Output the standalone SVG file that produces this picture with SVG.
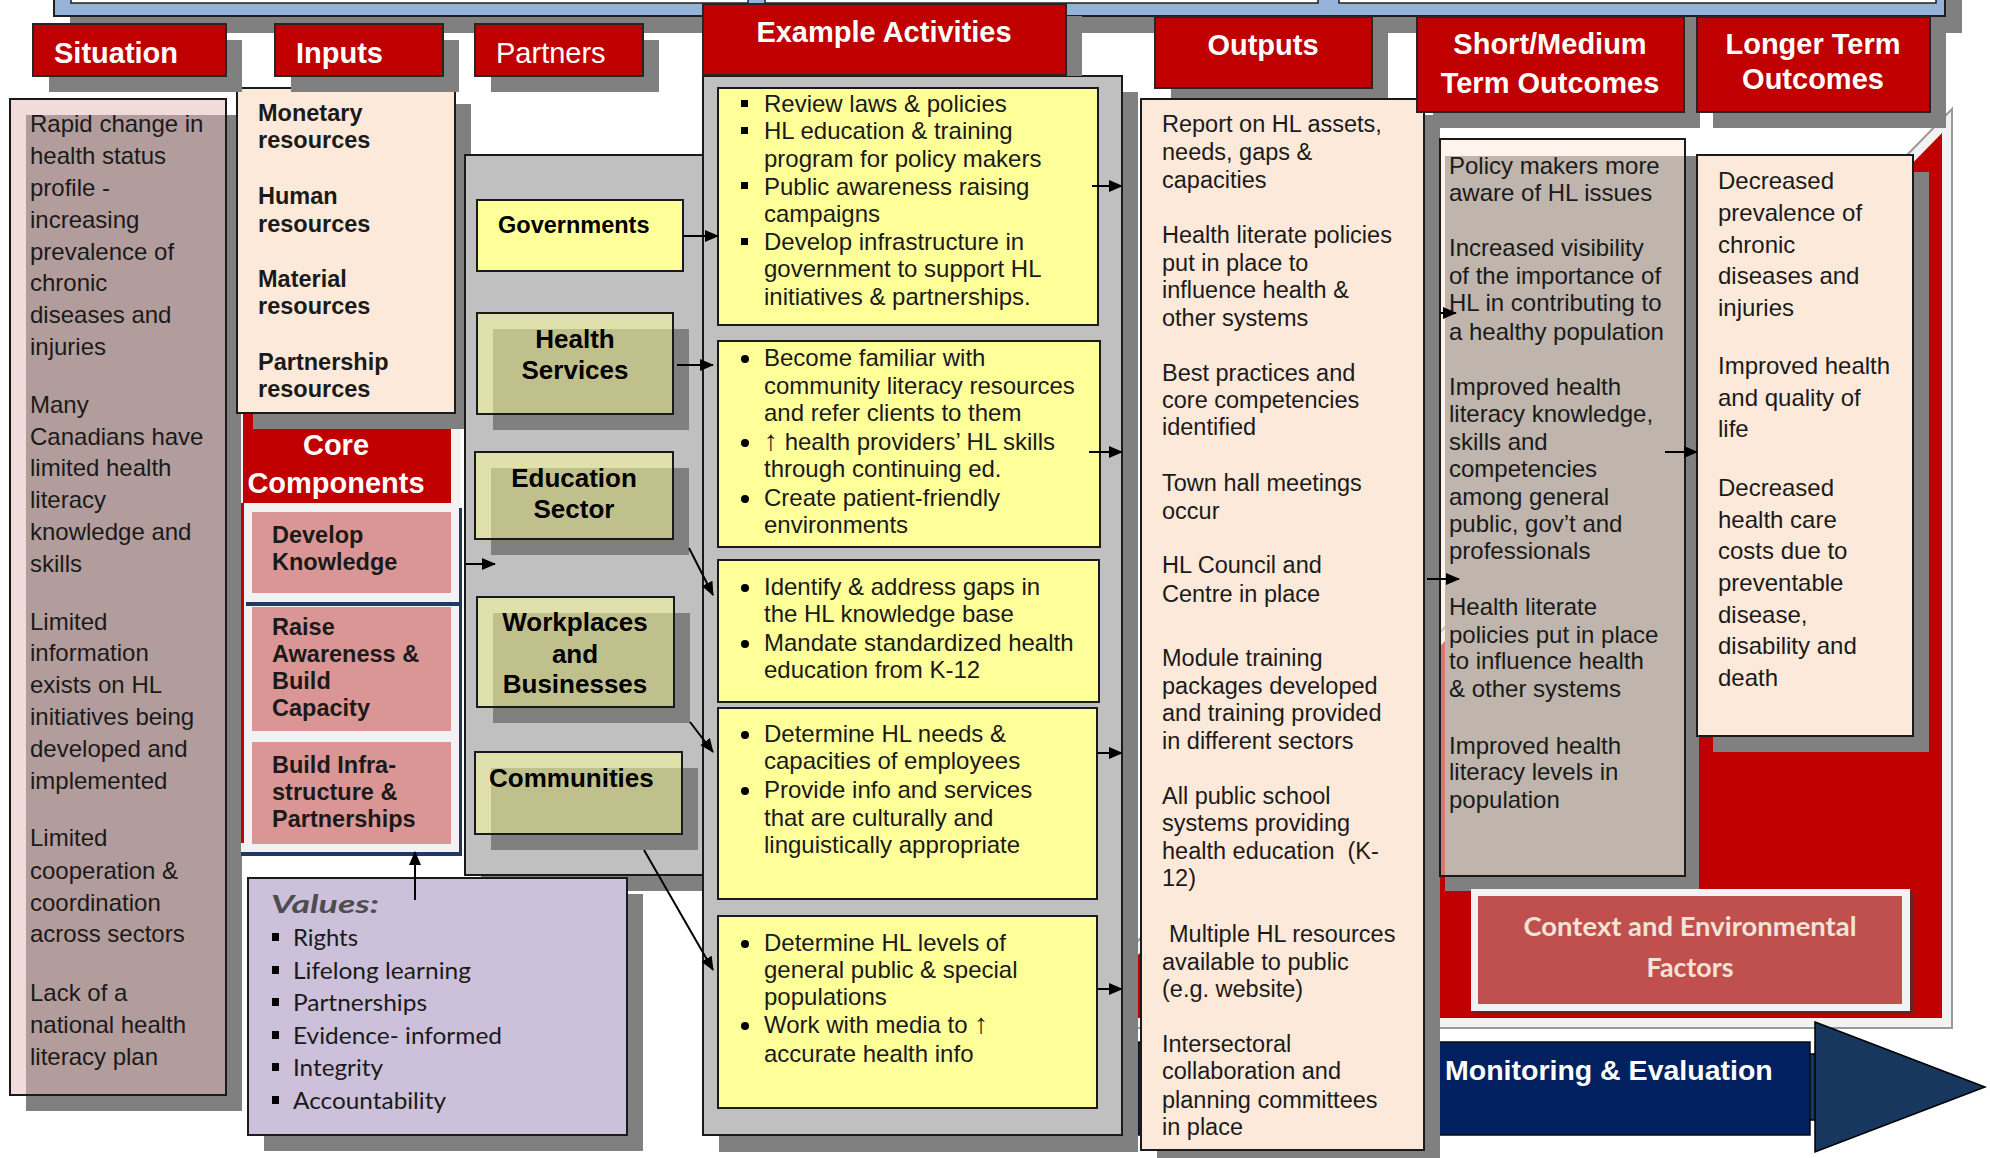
<svg xmlns="http://www.w3.org/2000/svg" width="1990" height="1158" viewBox="0 0 1990 1158">
<defs>
<style>
.sh{fill:#808080}
.hdr{fill:#c00000;stroke:#262626;stroke-width:2}
.ht{font-family:"Liberation Sans",Arial,sans-serif;font-weight:bold;font-size:29px;fill:#ffffff}
.tx{font-family:"Liberation Sans",Arial,sans-serif;fill:#1a1a1a}
.bd{stroke:#1a1a1a;stroke-width:2}
.cal{font-family:Lato,"Open Sans",sans-serif}
.yb{fill:#ffff99;stroke:#1a1a1a;stroke-width:2}
.pb{fill:#ffff99;fill-opacity:0.5;stroke:#1a1a1a;stroke-width:2}
.pt{font-family:"Liberation Sans",Arial,sans-serif;font-weight:bold;font-size:26px;fill:#000}
.cc{fill:#da9694}
.ct{font-family:"Liberation Sans",Arial,sans-serif;font-weight:bold;font-size:23.5px;fill:#1a1a1a}
.up{font-size:28px}
.con line{stroke:#000;stroke-width:2;marker-end:url(#ah)}
</style>
<marker id="ah" markerUnits="userSpaceOnUse" markerWidth="14" markerHeight="12" refX="13" refY="6" orient="auto"><path d="M0,0 L14,6 L0,12 z" fill="#000"/></marker>
</defs>
<rect x="0" y="0" width="1990" height="1158" fill="#ffffff"/>

<g id="top-bar">
<rect x="70" y="0" width="1892" height="33" class="sh"/>
<rect x="54" y="-4" width="1891" height="20" fill="#95b3d7" stroke="#1f1f1f" stroke-width="2"/>
<rect x="71" y="-4" width="677" height="7" fill="#fff" stroke="#1f1f1f" stroke-width="1.5"/>
<rect x="765" y="-4" width="553" height="7" fill="#fff" stroke="#1f1f1f" stroke-width="1.5"/>
<rect x="1339" y="-4" width="597" height="7" fill="#fff" stroke="#1f1f1f" stroke-width="1.5"/>
</g>

<g id="context-background">
<polygon points="1952,109 1952,1028 1132,1028 1132,947" fill="#f2f2f2" stroke="#9a9a9a" stroke-width="2"/>
<polygon points="1942,133 1942,1018 1138,1018 1138,955" fill="#c00000"/>
</g>

<g id="monitoring-evaluation">
<rect x="1790" y="1054" width="30" height="66" fill="#17375e" stroke="#000" stroke-width="1.5"/>
<polygon points="1815,1022 1985,1087 1815,1152" fill="#17375e" stroke="#000" stroke-width="1.5"/>
<rect x="1138" y="1042" width="672" height="93" fill="#002060" stroke="#0d0d0d" stroke-width="1.5"/>
<text class="ht" x="1445" y="1080" style="font-size:28.5px">Monitoring &amp; Evaluation</text>
</g>

<g id="situation">
<rect x="26" y="115" width="216" height="996" class="sh"/>
<rect x="10" y="99" width="216" height="996" fill="#e6b9b8" fill-opacity="0.5" class="bd"/>
<text class="tx" style="font-size:24px">
<tspan x="30" y="132">Rapid change in</tspan>
<tspan x="30" y="164">health status</tspan>
<tspan x="30" y="196">profile -</tspan>
<tspan x="30" y="228">increasing</tspan>
<tspan x="30" y="260">prevalence of</tspan>
<tspan x="30" y="291">chronic</tspan>
<tspan x="30" y="323">diseases and</tspan>
<tspan x="30" y="355">injuries</tspan>
<tspan x="30" y="413">Many</tspan>
<tspan x="30" y="445">Canadians have</tspan>
<tspan x="30" y="476">limited health</tspan>
<tspan x="30" y="508">literacy</tspan>
<tspan x="30" y="540">knowledge and</tspan>
<tspan x="30" y="572">skills</tspan>
<tspan x="30" y="630">Limited</tspan>
<tspan x="30" y="661">information</tspan>
<tspan x="30" y="693">exists on HL</tspan>
<tspan x="30" y="725">initiatives being</tspan>
<tspan x="30" y="757">developed and</tspan>
<tspan x="30" y="789">implemented</tspan>
<tspan x="30" y="846">Limited</tspan>
<tspan x="30" y="879">cooperation &amp;</tspan>
<tspan x="30" y="911">coordination</tspan>
<tspan x="30" y="942">across sectors</tspan>
<tspan x="30" y="1001">Lack of a</tspan>
<tspan x="30" y="1033">national health</tspan>
<tspan x="30" y="1065">literacy plan</tspan>
</text>
</g>

<g id="core-components">
<rect x="241" y="405" width="220" height="451" fill="#f2f2f2"/>
<rect x="243" y="405" width="208" height="98" fill="#c00000"/>
<rect x="241" y="503" width="3" height="340" fill="#c00000"/>
<rect x="246" y="602" width="215" height="4" fill="#1f3864"/>
<rect x="459" y="508" width="3" height="348" fill="#1f3864"/>
<rect x="241" y="852" width="221" height="4" fill="#1f3864"/>
<text class="ht" x="336" y="455" text-anchor="middle">Core</text>
<text class="ht" x="336" y="493" text-anchor="middle">Components</text>
<g id="develop-knowledge">
<rect x="252" y="512" width="199" height="81" class="cc"/>
<text class="ct"><tspan x="272" y="543">Develop</tspan><tspan x="272" y="570">Knowledge</tspan></text>
</g>
<g id="raise-awareness">
<rect x="252" y="607" width="199" height="124" class="cc"/>
<text class="ct"><tspan x="272" y="635">Raise</tspan><tspan x="272" y="662">Awareness &amp;</tspan><tspan x="272" y="689">Build</tspan><tspan x="272" y="716">Capacity</tspan></text>
</g>
<g id="build-infrastructure">
<rect x="252" y="742" width="199" height="102" class="cc"/>
<text class="ct"><tspan x="272" y="773">Build Infra-</tspan><tspan x="272" y="800">structure &amp;</tspan><tspan x="272" y="827">Partnerships</tspan></text>
</g>
</g>

<g id="inputs">
<rect x="253" y="104" width="218" height="325" class="sh"/>
<rect x="237" y="88" width="218" height="325" fill="#fde9d9" class="bd"/>
<text class="ct">
<tspan x="258" y="121">Monetary</tspan><tspan x="258" y="148">resources</tspan>
<tspan x="258" y="204">Human</tspan><tspan x="258" y="232">resources</tspan>
<tspan x="258" y="287">Material</tspan><tspan x="258" y="314">resources</tspan>
<tspan x="258" y="370">Partnership</tspan><tspan x="258" y="397">resources</tspan>
</text>
</g>

<g id="partners-panel">
<rect x="481" y="171" width="238" height="720" class="sh"/>
<rect x="465" y="155" width="238" height="720" fill="#c0c0c0" class="bd"/>
</g>

<g id="values">
<rect x="264" y="894" width="379" height="257" class="sh"/>
<rect x="248" y="878" width="379" height="257" fill="#ccc0da" class="bd"/>
<text class="cal" x="271" y="913" style="font-size:25px;font-weight:bold;font-style:italic;fill:#4d4d4d" textLength="108" lengthAdjust="spacingAndGlyphs">Values:</text>
<g fill="#000">
<rect x="272" y="933" width="7" height="8"/>
<rect x="272" y="966" width="7" height="8"/>
<rect x="272" y="998" width="7" height="8"/>
<rect x="272" y="1031" width="7" height="8"/>
<rect x="272" y="1063" width="7" height="8"/>
<rect x="272" y="1096" width="7" height="8"/>
</g>
<g class="cal" style="font-size:24px;fill:#1a1a1a">
<text x="293" y="946" textLength="65" lengthAdjust="spacingAndGlyphs">Rights</text>
<text x="293" y="979" textLength="178" lengthAdjust="spacingAndGlyphs">Lifelong learning</text>
<text x="293" y="1011" textLength="134" lengthAdjust="spacingAndGlyphs">Partnerships</text>
<text x="293" y="1044" textLength="209" lengthAdjust="spacingAndGlyphs">Evidence- informed</text>
<text x="293" y="1076" textLength="90" lengthAdjust="spacingAndGlyphs">Integrity</text>
<text x="293" y="1109" textLength="153" lengthAdjust="spacingAndGlyphs">Accountability</text>
</g>
</g>

<g id="governments">
<rect x="477" y="200" width="206" height="71" class="yb"/>
<text class="pt" x="498" y="233" style="font-size:23.5px">Governments</text>
</g>
<g id="health-services">
<rect x="493" y="329" width="196" height="101" class="sh"/>
<rect x="477" y="313" width="196" height="101" class="pb"/>
<text class="pt" text-anchor="middle"><tspan x="575" y="348">Health</tspan><tspan x="575" y="379">Services</tspan></text>
</g>
<g id="education-sector">
<rect x="491" y="468" width="198" height="87" class="sh"/>
<rect x="475" y="452" width="198" height="87" class="pb"/>
<text class="pt" text-anchor="middle"><tspan x="574" y="487">Education</tspan><tspan x="574" y="518">Sector</tspan></text>
</g>
<g id="workplaces">
<rect x="493" y="613" width="197" height="110" class="sh"/>
<rect x="477" y="597" width="197" height="110" class="pb"/>
<text class="pt" text-anchor="middle"><tspan x="575" y="631">Workplaces</tspan><tspan x="575" y="663">and</tspan><tspan x="575" y="693">Businesses</tspan></text>
</g>
<g id="communities">
<rect x="491" y="768" width="207" height="82" class="sh"/>
<rect x="475" y="752" width="207" height="82" class="pb"/>
<text class="pt" x="489" y="787">Communities</text>
</g>

<g id="activities-panel">
<rect x="719" y="92" width="419" height="1060" class="sh"/>
<rect x="703" y="76" width="419" height="1059" fill="#c0c0c0" class="bd"/>
</g>

<g id="activity-1">
<rect x="718" y="88" width="380" height="237" class="yb"/>
<g fill="#000"><rect x="741" y="100" width="7" height="7"/><rect x="741" y="127" width="7" height="7"/><rect x="741" y="182" width="7" height="7"/><rect x="741" y="238" width="7" height="7"/></g>
<text class="tx" style="font-size:24px">
<tspan x="764" y="112">Review laws &amp; policies</tspan>
<tspan x="764" y="139">HL education &amp; training</tspan>
<tspan x="764" y="167">program for policy makers</tspan>
<tspan x="764" y="195">Public awareness raising</tspan>
<tspan x="764" y="222">campaigns</tspan>
<tspan x="764" y="250">Develop infrastructure in</tspan>
<tspan x="764" y="277">government to support HL</tspan>
<tspan x="764" y="305">initiatives &amp; partnerships.</tspan>
</text>
</g>
<g id="activity-2">
<rect x="718" y="341" width="382" height="206" class="yb"/>
<g fill="#000"><circle cx="745" cy="359" r="4"/><circle cx="745" cy="443" r="4"/><circle cx="745" cy="499" r="4"/></g>
<text class="tx" style="font-size:24px">
<tspan x="764" y="366">Become familiar with</tspan>
<tspan x="764" y="394">community literacy resources</tspan>
<tspan x="764" y="421">and refer clients to them</tspan>
<tspan x="764" y="450"><tspan class="up">↑</tspan> health providers’ HL skills</tspan>
<tspan x="764" y="477">through continuing ed.</tspan>
<tspan x="764" y="506">Create patient-friendly</tspan>
<tspan x="764" y="533">environments</tspan>
</text>
</g>
<g id="activity-3">
<rect x="718" y="560" width="381" height="142" class="yb"/>
<g fill="#000"><circle cx="745" cy="588" r="4"/><circle cx="745" cy="644" r="4"/></g>
<text class="tx" style="font-size:24px">
<tspan x="764" y="595">Identify &amp; address gaps in</tspan>
<tspan x="764" y="622">the HL knowledge base</tspan>
<tspan x="764" y="651">Mandate standardized health</tspan>
<tspan x="764" y="678">education from K-12</tspan>
</text>
</g>
<g id="activity-4">
<rect x="718" y="708" width="379" height="191" class="yb"/>
<g fill="#000"><circle cx="745" cy="735" r="4"/><circle cx="745" cy="791" r="4"/></g>
<text class="tx" style="font-size:24px">
<tspan x="764" y="742">Determine HL needs &amp;</tspan>
<tspan x="764" y="769">capacities of employees</tspan>
<tspan x="764" y="798">Provide info and services</tspan>
<tspan x="764" y="826">that are culturally and</tspan>
<tspan x="764" y="853">linguistically appropriate</tspan>
</text>
</g>
<g id="activity-5">
<rect x="718" y="916" width="379" height="192" class="yb"/>
<g fill="#000"><circle cx="745" cy="944" r="4"/><circle cx="745" cy="1026" r="4"/></g>
<text class="tx" style="font-size:24px">
<tspan x="764" y="951">Determine HL levels of</tspan>
<tspan x="764" y="978">general public &amp; special</tspan>
<tspan x="764" y="1005">populations</tspan>
<tspan x="764" y="1033">Work with media to <tspan class="up">↑</tspan></tspan>
<tspan x="764" y="1062">accurate health info</tspan>
</text>
</g>

<g id="outputs">
<rect x="1157" y="115" width="283" height="1060" class="sh"/>
<rect x="1141" y="99" width="283" height="1051" fill="#fde9d9" class="bd"/>
<text class="tx" style="font-size:23.5px">
<tspan x="1162" y="132">Report on HL assets,</tspan>
<tspan x="1162" y="160">needs, gaps &amp;</tspan>
<tspan x="1162" y="188">capacities</tspan>
<tspan x="1162" y="243">Health literate policies</tspan>
<tspan x="1162" y="271">put in place to</tspan>
<tspan x="1162" y="298">influence health &amp;</tspan>
<tspan x="1162" y="326">other systems</tspan>
<tspan x="1162" y="381">Best practices and</tspan>
<tspan x="1162" y="408">core competencies</tspan>
<tspan x="1162" y="435">identified</tspan>
<tspan x="1162" y="491">Town hall meetings</tspan>
<tspan x="1162" y="519">occur</tspan>
<tspan x="1162" y="573">HL Council and</tspan>
<tspan x="1162" y="602">Centre in place</tspan>
<tspan x="1162" y="666">Module training</tspan>
<tspan x="1162" y="694">packages developed</tspan>
<tspan x="1162" y="721">and training provided</tspan>
<tspan x="1162" y="749">in different sectors</tspan>
<tspan x="1162" y="804">All public school</tspan>
<tspan x="1162" y="831">systems providing</tspan>
<tspan x="1162" y="859">health education&#160; (K-</tspan>
<tspan x="1162" y="886">12)</tspan>
<tspan x="1169" y="942">Multiple HL resources</tspan>
<tspan x="1162" y="970">available to public</tspan>
<tspan x="1162" y="997">(e.g. website)</tspan>
<tspan x="1162" y="1052">Intersectoral</tspan>
<tspan x="1162" y="1079">collaboration and</tspan>
<tspan x="1162" y="1108">planning committees</tspan>
<tspan x="1162" y="1135">in place</tspan>
</text>
</g>

<g id="short-medium-outcomes">
<rect x="1445" y="156" width="254" height="735" class="sh"/>
<rect x="1440" y="139" width="245" height="737" fill="#fde9d9" fill-opacity="0.5" class="bd"/>
<text class="tx" style="font-size:24px">
<tspan x="1449" y="174">Policy makers more</tspan>
<tspan x="1449" y="201">aware of HL issues</tspan>
<tspan x="1449" y="256">Increased visibility</tspan>
<tspan x="1449" y="284">of the importance of</tspan>
<tspan x="1449" y="311">HL in contributing to</tspan>
<tspan x="1449" y="340">a healthy population</tspan>
<tspan x="1449" y="395">Improved health</tspan>
<tspan x="1449" y="422">literacy knowledge,</tspan>
<tspan x="1449" y="450">skills and</tspan>
<tspan x="1449" y="477">competencies</tspan>
<tspan x="1449" y="505">among general</tspan>
<tspan x="1449" y="532">public, gov’t and</tspan>
<tspan x="1449" y="559">professionals</tspan>
<tspan x="1449" y="615">Health literate</tspan>
<tspan x="1449" y="643">policies put in place</tspan>
<tspan x="1449" y="669">to influence health</tspan>
<tspan x="1449" y="697">&amp; other systems</tspan>
<tspan x="1449" y="754">Improved health</tspan>
<tspan x="1449" y="780">literacy levels in</tspan>
<tspan x="1449" y="808">population</tspan>
</text>
</g>

<g id="longer-term-outcomes">
<rect x="1713" y="172" width="216" height="580" class="sh"/>
<rect x="1697" y="155" width="216" height="581" fill="#fde9d9" class="bd"/>
<text class="tx" style="font-size:24px">
<tspan x="1718" y="189">Decreased</tspan>
<tspan x="1718" y="221">prevalence of</tspan>
<tspan x="1718" y="253">chronic</tspan>
<tspan x="1718" y="284">diseases and</tspan>
<tspan x="1718" y="316">injuries</tspan>
<tspan x="1718" y="374">Improved health</tspan>
<tspan x="1718" y="406">and quality of</tspan>
<tspan x="1718" y="437">life</tspan>
<tspan x="1718" y="496">Decreased</tspan>
<tspan x="1718" y="528">health care</tspan>
<tspan x="1718" y="559">costs due to</tspan>
<tspan x="1718" y="591">preventable</tspan>
<tspan x="1718" y="623">disease,</tspan>
<tspan x="1718" y="654">disability and</tspan>
<tspan x="1718" y="686">death</tspan>
</text>
</g>

<g id="context-factors">
<rect x="1474" y="892" width="439" height="122" fill="#632523"/>
<rect x="1471" y="889" width="439" height="122" fill="#f2f2f2"/>
<rect x="1478" y="896" width="424" height="108" fill="#c0504d"/>
<g class="cal" style="font-size:27px;font-weight:bold;fill:#f2e4d8" text-anchor="middle">
<text x="1690" y="936" textLength="333" lengthAdjust="spacingAndGlyphs">Context and Environmental</text>
<text x="1690" y="977" textLength="87" lengthAdjust="spacingAndGlyphs">Factors</text>
</g>
</g>

<g id="headers">
<g id="hdr-situation"><rect x="49" y="40" width="193" height="52" class="sh"/><rect x="33" y="24" width="193" height="52" class="hdr"/><text class="ht" x="54" y="63">Situation</text></g>
<g id="hdr-inputs"><rect x="291" y="40" width="168" height="52" class="sh"/><rect x="275" y="24" width="168" height="52" class="hdr"/><text class="ht" x="296" y="63">Inputs</text></g>
<g id="hdr-partners"><rect x="491" y="40" width="168" height="52" class="sh"/><rect x="475" y="24" width="168" height="52" class="hdr"/><text class="ht" x="496" y="63" style="font-weight:normal">Partners</text></g>
<g id="hdr-activities"><rect x="719" y="16" width="363" height="60" class="sh"/><rect x="703" y="4" width="363" height="71" class="hdr"/><text class="ht" x="884" y="42" text-anchor="middle" style="font-size:29px">Example Activities</text></g>
<g id="hdr-outputs"><rect x="1171" y="27" width="217" height="71" class="sh"/><rect x="1155" y="17" width="217" height="71" class="hdr"/><text class="ht" x="1263" y="55" text-anchor="middle">Outputs</text></g>
<g id="hdr-short"><rect x="1433" y="33" width="267" height="95" class="sh"/><rect x="1417" y="17" width="267" height="95" class="hdr"/><text class="ht" text-anchor="middle"><tspan x="1550" y="54">Short/Medium</tspan><tspan x="1550" y="93">Term Outcomes</tspan></text></g>
<g id="hdr-longer"><rect x="1713" y="33" width="233" height="95" class="sh"/><rect x="1697" y="17" width="233" height="95" class="hdr"/><text class="ht" text-anchor="middle"><tspan x="1813" y="54">Longer Term</tspan><tspan x="1813" y="89">Outcomes</tspan></text></g>
</g>

<g id="connectors" class="con">
<line x1="466" y1="564" x2="495" y2="564"/>
<line x1="415" y1="900" x2="415" y2="852"/>
<line x1="683" y1="236" x2="718" y2="236"/>
<line x1="677" y1="365" x2="713" y2="365"/>
<line x1="689" y1="548" x2="713" y2="595"/>
<line x1="690" y1="722" x2="713" y2="752"/>
<line x1="644" y1="850" x2="713" y2="970"/>
<line x1="1092" y1="186" x2="1122" y2="186"/>
<line x1="1089" y1="452" x2="1122" y2="452"/>
<line x1="1098" y1="753" x2="1122" y2="753"/>
<line x1="1098" y1="989" x2="1122" y2="989"/>
<line x1="1440" y1="313" x2="1456" y2="313"/>
<line x1="1427" y1="579" x2="1459" y2="579"/>
<line x1="1665" y1="452" x2="1697" y2="452"/>
</g>
</svg>
